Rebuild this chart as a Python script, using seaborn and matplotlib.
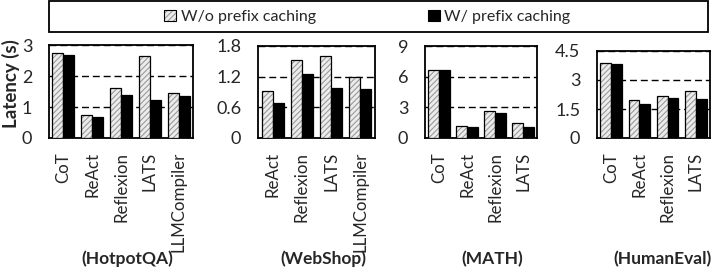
import matplotlib
matplotlib.use("Agg")
import matplotlib.pyplot as plt
import seaborn as sns
import pandas as pd
from matplotlib.patches import Rectangle, Patch
from matplotlib.colors import to_rgba

# ---------------- data ----------------
series_names = ["W/o prefix caching", "W/ prefix caching"]

hotpot_cats = ["CoT", "ReAct", "Reflexion", "LATS", "LLMCompiler"]
hotpot_wo = [2.73, 0.75, 1.60, 2.63, 1.46]
hotpot_w = [2.69, 0.67, 1.40, 1.23, 1.37]

webshop_cats = ["ReAct", "Reflexion", "LATS", "LLMCompiler"]
webshop_wo = [0.91, 1.52, 1.61, 1.19]
webshop_w = [0.68, 1.26, 0.97, 0.96]

math_cats = ["CoT", "ReAct", "Reflexion", "LATS"]
math_wo = [6.68, 1.17, 2.61, 1.50]
math_w = [6.65, 1.04, 2.48, 1.08]

human_cats = ["CoT", "ReAct", "Reflexion", "LATS"]
human_wo = [3.89, 1.94, 2.16, 2.44]
human_w = [3.84, 1.75, 2.08, 2.01]

panel_titles = ["(HotpotQA)", "(WebShop)", "(MATH)", "(HumanEval)"]
yticks_list = [[0, 1, 2, 3], [0, 0.6, 1.2, 1.8], [0, 3, 6, 9], [0, 1.5, 3, 4.5]]
ytick_labels = [["0", "1", "2", "3"], ["0", "0.6", "1.2", "1.8"],
                ["0", "3", "6", "9"], ["0", "1.5", "3", "4.5"]]
y_label = "Latency (s)"

panels = [
    (hotpot_cats, hotpot_wo, hotpot_w),
    (webshop_cats, webshop_wo, webshop_w),
    (math_cats, math_wo, math_w),
    (human_cats, human_wo, human_w),
]

# ---------------- style ----------------
sns.set_style("ticks")
plt.rcParams["font.family"] = ["Lato", "DejaVu Sans"]
plt.rcParams["hatch.linewidth"] = 0.8

W, H = 714, 276
fig = plt.figure(figsize=(W / 100, H / 100), dpi=100)

# axes boxes in pixel coords: left, right, top, bottom
boxes = [(49, 193, 45, 138), (258, 375, 46, 138), (425, 537, 46, 138), (597, 710, 51, 138)]
title_x = [127, 323, 492, 662]

hatch_face = "#ececec"
hatch_line = "#9a9a9a"

for i, ((cats, wo, w), (l, r, t, b)) in enumerate(zip(panels, boxes)):
    ax = fig.add_axes([l / W, (H - b) / H, (r - l) / W, (b - t) / H])
    df = pd.DataFrame({
        "cat": cats * 2,
        "series": [series_names[0]] * len(cats) + [series_names[1]] * len(cats),
        "val": list(wo) + list(w),
    })
    sns.barplot(data=df, x="cat", y="val", hue="series", hue_order=series_names,
                palette=[hatch_face, "black"], width=0.76, gap=0, legend=False,
                ax=ax, zorder=3, saturation=1)
    for p in ax.containers[0]:
        p.set_hatch("//////")
        p.set_edgecolor("black")
        p.set_linewidth(0.9)
        p._hatch_color = to_rgba(hatch_line)
    for p in ax.containers[1]:
        p.set_edgecolor("black")
        p.set_linewidth(0.9)

    yt = yticks_list[i]
    ax.set_ylim(0, yt[-1])
    ax.set_yticks(yt)
    ax.set_yticklabels(ytick_labels[i], fontsize=13)
    ax.set_xlim(-0.5, len(cats) - 0.5)
    ax.set_xlabel("")
    ax.set_ylabel("")
    ax.tick_params(axis="y", length=0, pad=12)
    ax.tick_params(axis="x", length=0, pad=10)
    for lab in ax.get_xticklabels():
        lab.set_rotation(90)
        lab.set_fontsize(12.2)
        lab.set_va("top")
        lab.set_ha("center")
    ax.set_axisbelow(True)
    ax.yaxis.grid(True, linestyle=(0, (5, 2.8)), color="black", linewidth=1.0)
    ax.xaxis.grid(False)
    for s in ax.spines.values():
        s.set_visible(True)
        s.set_color("black")
        s.set_linewidth(1.3)
    fig.text(title_x[i] / W, (H - 259) / H, panel_titles[i], ha="center", va="center",
             fontsize=12.5, fontweight="bold")

fig.text(11 / W, (H - 84) / H, y_label, rotation=90, ha="center", va="center",
         fontsize=13.5, fontweight="bold")

# legend box
fig.patches.append(Rectangle((49 / W, (H - 32) / H), (708 - 49) / W, 31 / H,
                             transform=fig.transFigure, fill=False,
                             edgecolor="black", linewidth=1.3))
h1 = Patch(facecolor=hatch_face, edgecolor="black", hatch="//////", linewidth=0.8)
h2 = Patch(facecolor="black", edgecolor="black", linewidth=0.8)
leg = fig.legend([h1, h2], series_names, loc="center left",
                 bbox_to_anchor=(164 / W, (H - 17) / H), ncol=2, frameon=False,
                 fontsize=11.5, handlelength=0.75, handleheight=0.75,
                 handletextpad=0.3, columnspacing=7.0, borderpad=0, borderaxespad=0)
for p in leg.get_patches():
    if p.get_hatch():
        p._hatch_color = to_rgba(hatch_line)

fig.savefig("out.png", dpi=100)
